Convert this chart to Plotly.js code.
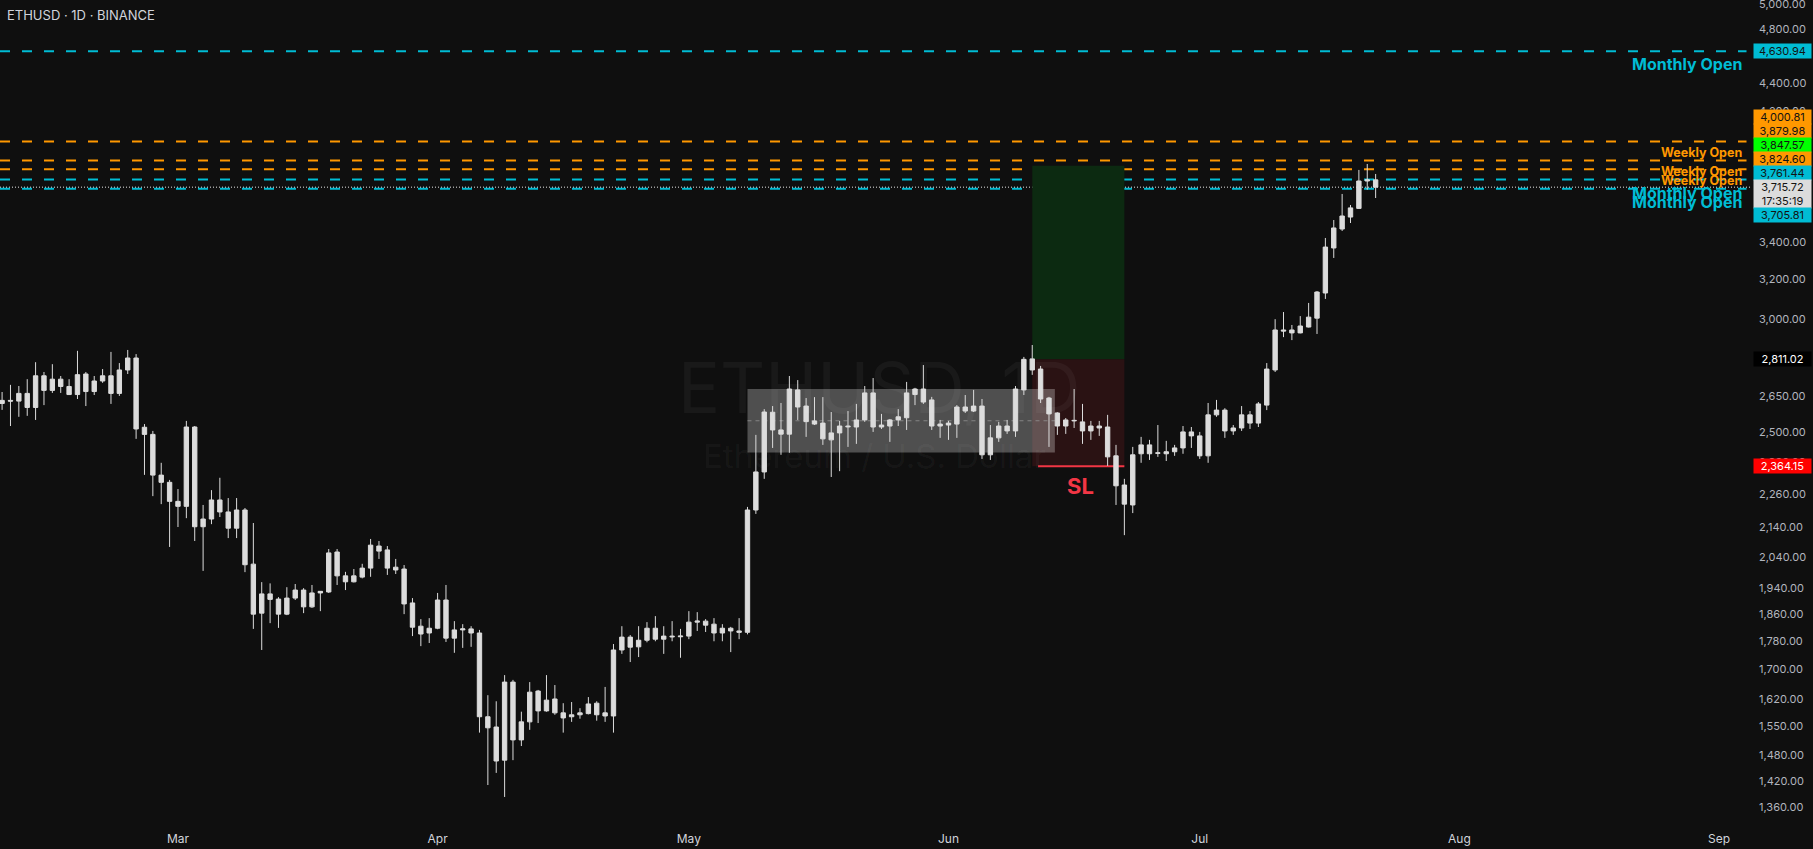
<!DOCTYPE html>
<html>
<head>
<meta charset="utf-8">
<script src="https://cdn.plot.ly/plotly-3.0.1.min.js"></script>
<style>
html,body{margin:0;padding:0;background:#0f0f0f;overflow:hidden}
#chart{width:1813px;height:849px}
</style>
</head>
<body>
<div id="chart"></div>
<script>
// ---------- DATA (ETHUSD daily) ----------
const dates = [
'2025-02-08','2025-02-09','2025-02-10','2025-02-11','2025-02-12','2025-02-13','2025-02-14','2025-02-15','2025-02-16','2025-02-17','2025-02-18','2025-02-19','2025-02-20','2025-02-21','2025-02-22','2025-02-23','2025-02-24','2025-02-25','2025-02-26','2025-02-27','2025-02-28',
'2025-03-01','2025-03-02','2025-03-03','2025-03-04','2025-03-05','2025-03-06','2025-03-07','2025-03-08','2025-03-09','2025-03-10','2025-03-11','2025-03-12','2025-03-13','2025-03-14','2025-03-15','2025-03-16','2025-03-17','2025-03-18','2025-03-19','2025-03-20','2025-03-21','2025-03-22','2025-03-23','2025-03-24','2025-03-25','2025-03-26','2025-03-27','2025-03-28','2025-03-29','2025-03-30','2025-03-31',
'2025-04-01','2025-04-02','2025-04-03','2025-04-04','2025-04-05','2025-04-06','2025-04-07','2025-04-08','2025-04-09','2025-04-10','2025-04-11','2025-04-12','2025-04-13','2025-04-14','2025-04-15','2025-04-16','2025-04-17','2025-04-18','2025-04-19','2025-04-20','2025-04-21','2025-04-22','2025-04-23','2025-04-24','2025-04-25','2025-04-26','2025-04-27','2025-04-28','2025-04-29','2025-04-30',
'2025-05-01','2025-05-02','2025-05-03','2025-05-04','2025-05-05','2025-05-06','2025-05-07','2025-05-08','2025-05-09','2025-05-10','2025-05-11','2025-05-12','2025-05-13','2025-05-14','2025-05-15','2025-05-16','2025-05-17','2025-05-18','2025-05-19','2025-05-20','2025-05-21','2025-05-22','2025-05-23','2025-05-24','2025-05-25','2025-05-26','2025-05-27','2025-05-28','2025-05-29','2025-05-30','2025-05-31',
'2025-06-01','2025-06-02','2025-06-03','2025-06-04','2025-06-05','2025-06-06','2025-06-07','2025-06-08','2025-06-09','2025-06-10','2025-06-11','2025-06-12','2025-06-13','2025-06-14','2025-06-15','2025-06-16','2025-06-17','2025-06-18','2025-06-19','2025-06-20','2025-06-21','2025-06-22','2025-06-23','2025-06-24','2025-06-25','2025-06-26','2025-06-27','2025-06-28','2025-06-29','2025-06-30',
'2025-07-01','2025-07-02','2025-07-03','2025-07-04','2025-07-05','2025-07-06','2025-07-07','2025-07-08','2025-07-09','2025-07-10','2025-07-11','2025-07-12','2025-07-13','2025-07-14','2025-07-15','2025-07-16','2025-07-17','2025-07-18','2025-07-19','2025-07-20','2025-07-21','2025-07-22'
];
const opens = [
2617,2630,2627,2660,2600,2737,2673,2722,2690,2655,2745,2668,2714,2737,2660,2763,2817,2518,2489,2330,2303,
2233,2215,2519,2143,2170,2238,2195,2138,2202,2017,1863,1922,1906,1860,1909,1934,1882,1925,1928,2057,1979,1960,1975,2004,2077,2064,2007,2001,1894,1824,1804,
1818,1903,1789,1813,1816,1804,1575,1549,1468,1666,1517,1562,1642,1590,1621,1585,1575,1580,1583,1610,1585,1577,1755,1792,1764,1783,1818,1786,1795,1793,
1795,1836,1839,1830,1804,1818,1810,1806,2202,2342,2580,2507,2490,2675,2606,2544,2535,2467,2495,2523,2519,2548,2662,2519,2523,2548,2557,2655,2679,2632,2523,
2527,2531,2602,2585,2606,2408,2475,2523,2503,2675,2813,2767,2640,2577,2523,2544,2540,2503,2523,2519,2404,2293,2220,2412,2447,2416,2412,2420,2435,2499,
2483,2404,2569,2589,2503,2515,2569,2535,2610,2763,2948,2948,2934,2962,3005,3130,3367,3472,3540,3590,3753,3760
];
const highs = [
2666,2697,2692,2722,2798,2754,2789,2736,2722,2850,2754,2736,2767,2845,2794,2854,2835,2531,2503,2377,2312,
2278,2544,2523,2220,2274,2320,2245,2245,2209,2156,1959,1955,1912,1943,1953,1940,1950,1931,2067,2067,1992,2001,2018,2101,2094,2077,2034,2014,1909,1845,1848,
1925,1950,1839,1830,1824,1813,1631,1615,1685,1672,1588,1666,1645,1685,1658,1610,1613,1597,1626,1615,1653,1772,1824,1798,1824,1836,1854,1824,1839,1816,
1869,1866,1845,1848,1830,1822,1848,2213,2487,2593,2606,2619,2736,2718,2640,2644,2644,2581,2544,2585,2615,2692,2727,2573,2552,2593,2710,2684,2785,2645,2548,
2544,2610,2653,2675,2636,2527,2540,2548,2692,2822,2877,2781,2645,2580,2556,2679,2615,2544,2544,2569,2447,2316,2439,2479,2467,2527,2463,2447,2523,2519,
2499,2619,2632,2597,2527,2606,2585,2623,2794,3000,3035,2972,3015,3080,3140,3422,3523,3675,3610,3821,3858,3796
];
const lows = [
2590,2523,2561,2565,2548,2610,2662,2662,2653,2636,2606,2653,2706,2615,2649,2745,2471,2331,2252,2223,2074,
2142,2173,2094,1995,2152,2177,2104,2104,1991,1816,1755,1833,1819,1857,1903,1863,1879,1869,1925,1950,1934,1958,1971,1976,2034,1982,1985,1860,1795,1766,1775,
1815,1778,1747,1761,1764,1535,1410,1438,1383,1468,1502,1542,1559,1588,1580,1535,1562,1570,1581,1565,1562,1535,1744,1721,1735,1777,1780,1744,1780,1733,
1786,1810,1807,1780,1780,1749,1786,1800,2188,2316,2435,2408,2416,2548,2479,2527,2447,2323,2345,2439,2451,2540,2499,2511,2459,2523,2507,2610,2615,2507,2475,
2467,2475,2577,2581,2392,2388,2459,2491,2479,2653,2741,2619,2439,2487,2491,2515,2451,2467,2483,2365,2220,2114,2191,2377,2388,2400,2384,2404,2412,2435,
2392,2377,2561,2475,2487,2503,2511,2519,2589,2754,2914,2900,2932,2960,2929,3100,3313,3461,3506,3587,3700,3651
];
const closes = [
2630,2627,2660,2600,2737,2673,2722,2690,2655,2742,2668,2714,2737,2660,2763,2817,2511,2489,2330,2303,2233,
2215,2519,2143,2170,2238,2195,2138,2202,2015,1860,1922,1905,1860,1909,1934,1882,1925,1930,2054,1979,1960,1979,2004,2080,2060,2004,1998,1891,1821,1801,1818,
1903,1789,1813,1816,1804,1575,1547,1466,1666,1517,1562,1639,1590,1618,1585,1572,1580,1585,1608,1580,1577,1755,1792,1763,1783,1818,1786,1795,1793,1795,
1836,1839,1827,1804,1818,1810,1806,2202,2342,2581,2507,2490,2679,2602,2541,2531,2471,2495,2523,2520,2548,2662,2519,2527,2548,2561,2662,2679,2623,2523,2531,
2535,2602,2585,2606,2408,2475,2523,2503,2679,2811,2763,2636,2573,2523,2548,2546,2503,2523,2515,2400,2290,2223,2408,2447,2412,2414,2420,2435,2499,2483,
2404,2569,2589,2503,2515,2569,2535,2615,2767,2948,2943,2934,2967,3010,3135,3372,3478,3546,3593,3753,3760,3715.72
];

// Month ticks on the time axis
const monthTicks  = ['2025-03-01','2025-04-01','2025-05-01','2025-06-01','2025-07-01','2025-08-01','2025-09-01'];
const monthLabels = ['Mar','Apr','May','Jun','Jul','Aug','Sep'];

// Price-scale tick values (those visible on the right scale)
const priceTicks = [5000,4800,4400,4200,3400,3200,3000,2650,2500,2380,2260,2140,2040,1940,1860,1780,1700,1620,1550,1480,1420,1360];

// Horizontal "open" levels
const levelPrices = [4630.94, 4000.81, 3879.98, 3824.60, 3761.44, 3705.81];
const levelNames  = ['Monthly Open','Weekly Open','Weekly Open','Weekly Open','Monthly Open','Monthly Open'];
const levelKinds  = ['monthly','weekly','weekly','weekly','monthly','monthly'];

// Position tool (entry / take profit / stop loss)
const entryPrice = 2811.02;
const targetPrice = 3847.57;
const stopPrice = 2364.15;
const positionStart = '2025-06-11';
const positionEnd = '2025-06-22';

// Range box (translucent rectangle)
const rangeStart = '2025-05-08';
const rangeEnd = '2025-06-13 16:48';
const rangeHigh = 2679;
const rangeLow = 2417;

// Last price
const lastPrice = 3715.72;
const countdown = '17:35:19';

// ---------- STYLE ----------
const BG = '#0f0f0f';
const CANDLE = '#dcdcdc';
const CYAN = '#00bcd4';
const ORANGE = '#ff9800';
const FONT = 'Inter, "Noto Sans", Roboto, sans-serif';

function fmt(p){ return p.toLocaleString('en-US',{minimumFractionDigits:2, maximumFractionDigits:2}); }
const L = Math.log10;

const trace = {
  type:'candlestick', x:dates, open:opens, high:highs, low:lows, close:closes,
  increasing:{line:{color:CANDLE,width:1}, fillcolor:CANDLE},
  decreasing:{line:{color:CANDLE,width:1}, fillcolor:CANDLE},
  whiskerwidth:0, hoverinfo:'skip', showlegend:false
};

const shapes = [];
// position tool boxes
shapes.push({type:'rect', xref:'x', yref:'y', x0:positionStart, x1:positionEnd, y0:entryPrice, y1:targetPrice, fillcolor:'#0c2a11', line:{width:0}, layer:'below'});
shapes.push({type:'rect', xref:'x', yref:'y', x0:positionStart, x1:positionEnd, y0:stopPrice, y1:entryPrice, fillcolor:'#2a1213', line:{width:0}, layer:'below'});
// translucent range rectangle + midline
shapes.push({type:'rect', xref:'x', yref:'y', x0:rangeStart, x1:rangeEnd, y0:rangeLow, y1:rangeHigh, fillcolor:'rgba(255,255,255,0.27)', line:{width:0}, layer:'below'});
shapes.push({type:'line', xref:'x', yref:'y', x0:rangeStart, x1:rangeEnd, y0:Math.sqrt(rangeLow*rangeHigh), y1:Math.sqrt(rangeLow*rangeHigh), line:{color:'rgba(150,150,150,0.75)', width:1, dash:'4px,4px'}, layer:'below'});
// stop-loss line
shapes.push({type:'line', xref:'x', yref:'y', x0:'2025-06-11 16:48', x1:positionEnd, y0:stopPrice, y1:stopPrice, line:{color:'#f23645', width:2}, layer:'below'});
// level lines
levelPrices.forEach((p,i)=>{
  shapes.push({type:'line', xref:'paper', yref:'y', x0:0, x1:0.998, y0:p, y1:p,
    line:{color: levelKinds[i]==='monthly'?CYAN:ORANGE, width:2, dash:'10px,12px'}, layer:'below'});
});
// last price dotted line
shapes.push({type:'line', xref:'paper', yref:'y', x0:0, x1:1, y0:lastPrice, y1:lastPrice, line:{color:'#e8e8e8', width:1, dash:'1px,2px'}, layer:'below'});

const annotations = [];
// watermark
annotations.push({xref:'paper', yref:'paper', x:0.5023, y:0.528, xanchor:'center', yanchor:'middle', showarrow:false,
  text:'ETHUSD, 1D', font:{family:FONT, size:70, color:'rgba(255,255,255,0.045)'}});
annotations.push({xref:'paper', yref:'paper', x:0.4995, y:0.4453, xanchor:'center', yanchor:'middle', showarrow:false,
  text:'Ethereum / U.S. Dollar', font:{family:FONT, size:33, color:'rgba(255,255,255,0.045)'}});
// level labels
levelPrices.forEach((p,i)=>{
  const m = levelKinds[i]==='monthly';
  annotations.push({xref:'paper', yref:'y', x:1, y:L(p), xanchor:'right', yanchor:'middle', xshift:-6, yshift: m?-13:-11,
    showarrow:false, text:levelNames[i], font:{family:FONT, size: m?16:12.5, weight:700, color: m?CYAN:ORANGE}});
});
// SL label
annotations.push({xref:'x', yref:'y', x:'2025-06-16 19:40', y:L(stopPrice), yshift:-20, xanchor:'center', yanchor:'middle', showarrow:false,
  text:'SL', font:{family:FONT, size:22, weight:700, color:'#f23645'}});

// price-scale labels
function axisLabel(price, text, bg, fg, shift, h){
  annotations.push({xref:'paper', yref:'y', x:1, y:L(price), xanchor:'left', yanchor:'middle', xshift:3, yshift:shift,
    showarrow:false, text:text, bgcolor:bg, borderpad:1, width:55, height:h||12, align:'center', valign:'middle',
    font:{family:FONT, size:11, color:fg}});
}
axisLabel(4630.94, fmt(4630.94), CYAN, '#131313', 0);
axisLabel(4000.81, fmt(4000.81), ORANGE, '#131313', 24.5);
axisLabel(3879.98, fmt(3879.98), ORANGE, '#131313', 29.5);
axisLabel(targetPrice, fmt(targetPrice), '#00ff00', '#131313', 20.7);
axisLabel(3824.60, fmt(3824.60), ORANGE, '#131313', 10.3);
axisLabel(3761.44, fmt(3761.44), CYAN, '#131313', 6.6);
axisLabel(lastPrice, fmt(lastPrice)+'<br>'+countdown, '#dcdcdc', '#131313', -6.8, 26);
axisLabel(3705.81, fmt(3705.81), CYAN, '#131313', -26.1);
axisLabel(entryPrice, fmt(entryPrice), '#000000', '#ffffff', 0);
axisLabel(stopPrice, fmt(stopPrice), '#ff0000', '#ffffff', 0);

const layout = {
  width:1813, height:849,
  paper_bgcolor:BG, plot_bgcolor:BG,
  margin:{l:0, r:63, t:0, b:27, pad:0},
  showlegend:false,
  boxgap:0.45, boxgroupgap:0.05,
  title:{text:'ETHUSD · 1D · BINANCE', xref:'container', yref:'container', x:7/1813, y:1-15.7/849,
    xanchor:'left', yanchor:'middle', font:{family:FONT, size:13, color:'#d1d4dc'}},
  xaxis:{type:'date', range:['2025-02-07 18:00','2025-09-04 16:48'], rangeslider:{visible:false},
    showgrid:false, zeroline:false, showline:false, ticks:'',
    tickmode:'array', tickvals:monthTicks, ticktext:monthLabels,
    tickfont:{family:FONT, size:12, color:'#d1d4dc'}, ticklabelstandoff:8, fixedrange:true},
  yaxis:{type:'log', side:'right', range:[L(1328), L(5032.5)],
    showgrid:false, zeroline:false, showline:false, ticks:'',
    tickmode:'array', tickvals:priceTicks, tickformat:',.2f', ticklabeloverflow:'allow',
    tickfont:{family:FONT, size:11, color:'#b2b5be'}, ticklabelstandoff:8, fixedrange:true},
  shapes:shapes, annotations:annotations
};

Plotly.newPlot('chart', [trace], layout, {staticPlot:true, displayModeBar:false});
</script>
</body>
</html>
